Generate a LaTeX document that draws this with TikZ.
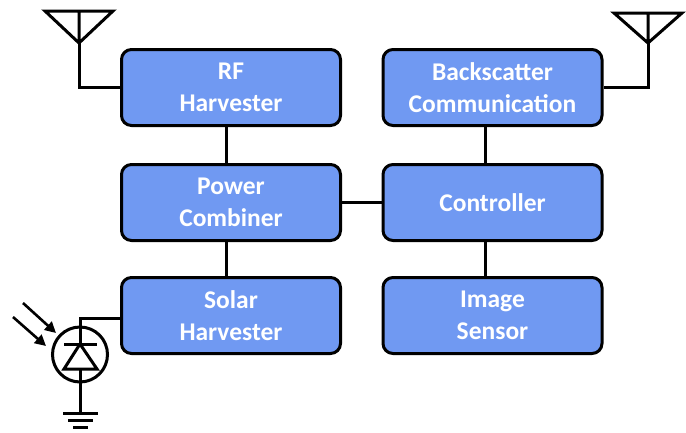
\documentclass[tikz,border=0pt]{standalone}
\usepackage{fontspec}
\setmainfont{Carlito}
\usepackage{tikz}
\usetikzlibrary{arrows.meta}
\definecolor{BoxBlue}{RGB}{112,153,242}

\begin{document}
\begin{tikzpicture}[x=1pt,y=-1pt,line width=3pt,
  block/.style={draw=black,fill=BoxBlue,rounded corners=10pt,minimum width=219pt,minimum height=76pt,
    align=center,text=white,font=\fontsize{25.5}{32}\selectfont\bfseries},
  ray/.style={line width=2.6pt,-{Triangle[length=11pt,width=11pt]}}]
\useasboundingbox (0,0) rectangle (686,432);
\node[block] (rf) at (231,87.5) {RF\\Harvester};
\node[block] (comb) at (231,202.5) {Power\\Combiner};
\node[block] (solar) at (231,315.5) {Solar\\Harvester};
\node[block] (bs) at (492.5,87.5) {Backscatter\\Communication};
\node[block] (ctrl) at (492.5,202.5) {Controller};
\node[block] (img) at (492.5,315.5) {Image\\Sensor};

\draw ([xshift=-5pt]rf.south) -- ([xshift=-5pt]comb.north);
\draw ([xshift=-5pt]comb.south) -- ([xshift=-5pt]solar.north);
\draw ([xshift=-7pt]bs.south) -- ([xshift=-7pt]ctrl.north);
\draw ([xshift=-7pt]ctrl.south) -- ([xshift=-7pt]img.north);
\draw (comb.east) -- (ctrl.west);

\coordinate (antL) at (79,43);
\draw (45,11) -- (113,11) -- (antL) -- cycle (79,11) -- (antL);
\draw (antL) |- (rf.west);
\coordinate (antR) at (648,43);
\draw (614,13) -- (682,13) -- (antR) -- cycle (648,13) -- (antR);
\draw (antR) |- (bs.east);

\coordinate (pd) at (80,354.5);
\coordinate (pdtop) at (80,344);
\coordinate (pdgnd) at (80,413);
\draw (pd) circle (27.5);
\draw (64,344) -- (97,344);
\draw[line join=miter] (80,344) -- (64,369) -- (97,369) -- cycle;
\draw (pdtop) |- ([yshift=-3pt]solar.west);
\draw (80,369) -- (pdgnd);
\draw (63,413) -- (98,413) (68,420) -- (93,420) (73,427) -- (88,427);
\coordinate (rayA) at (23,303);
\coordinate (rayB) at (13,317);
\draw[ray] (rayA) -- (56,333);
\draw[ray] (rayB) -- (46,346);
\end{tikzpicture}
\end{document}
